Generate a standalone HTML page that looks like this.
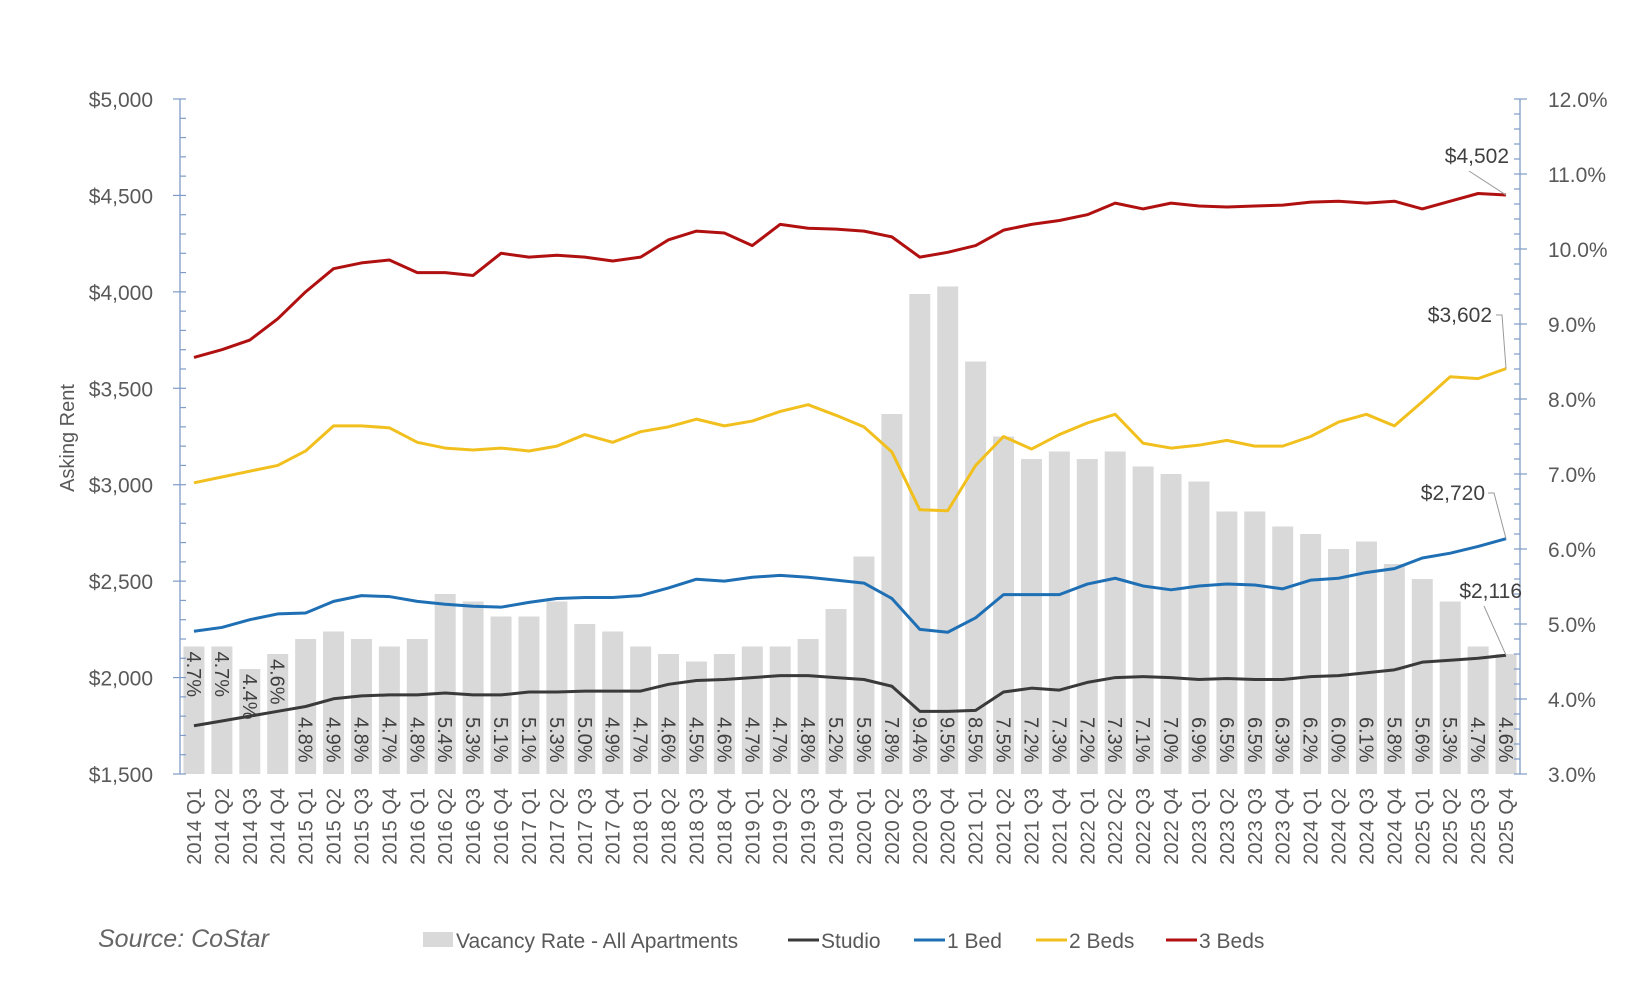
<!DOCTYPE html>
<html><head><meta charset="utf-8"><style>
body{margin:0;background:#fff}
svg{display:block;font-family:"Liberation Sans",sans-serif}
</style></head><body>
<svg id="chart" width="1650" height="1000" viewBox="0 0 1650 1000"></svg>
<script>
const categories=[];for(let y=2014;y<=2025;y++)for(let q=1;q<=4;q++)categories.push(y+' Q'+q);
const vacancy=[4.7,4.7,4.4,4.6,4.8,4.9,4.8,4.7,4.8,5.4,5.3,5.1,5.1,5.3,5.0,4.9,4.7,4.6,4.5,4.6,4.7,4.7,4.8,5.2,5.9,7.8,9.4,9.5,8.5,7.5,7.2,7.3,7.2,7.3,7.1,7.0,6.9,6.5,6.5,6.3,6.2,6.0,6.1,5.8,5.6,5.3,4.7,4.6];
const studio=[1750,1775,1800,1825,1850,1890,1905,1910,1910,1920,1910,1910,1925,1925,1930,1930,1930,1965,1985,1990,2000,2010,2010,2000,1990,1955,1825,1825,1830,1925,1945,1935,1975,2000,2005,2000,1990,1995,1990,1990,2005,2010,2025,2040,2080,2090,2100,2116];
const bed1=[2240,2260,2300,2330,2335,2395,2425,2420,2395,2380,2370,2365,2390,2410,2415,2415,2425,2465,2510,2500,2520,2530,2520,2505,2490,2410,2250,2235,2310,2430,2430,2430,2485,2515,2475,2455,2475,2485,2480,2460,2505,2515,2545,2565,2620,2645,2680,2720];
const bed2=[3010,3040,3070,3100,3175,3305,3305,3295,3220,3190,3180,3190,3175,3200,3260,3220,3275,3300,3340,3305,3330,3380,3415,3360,3300,3170,2870,2865,3100,3250,3185,3260,3320,3365,3215,3190,3205,3230,3200,3200,3250,3325,3365,3305,3430,3560,3550,3602];
const bed3=[3660,3700,3750,3860,4000,4120,4150,4165,4100,4100,4085,4200,4180,4190,4180,4160,4180,4270,4315,4305,4240,4350,4330,4325,4315,4285,4180,4205,4240,4320,4350,4370,4400,4460,4430,4460,4445,4440,4445,4450,4465,4470,4460,4470,4430,4470,4510,4502];
const leftTicks=[1500,2000,2500,3000,3500,4000,4500,5000];
const rightTicks=[3,4,5,6,7,8,9,10,11,12];

const svg=document.getElementById('chart');const NS='http://www.w3.org/2000/svg';
const X0=180,X1=1520,Y0=774,Y1=99;
const band=(X1-X0)/categories.length;
const xc=i=>X0+band*(i+0.5);
const yL=v=>Y0-(v-1500)/3500*(Y0-Y1);
const yR=v=>Y0-(v-3)/9*(Y0-Y1);
function el(t,a,txt){const e=document.createElementNS(NS,t);for(const k in a)e.setAttribute(k,a[k]);if(txt!==undefined)e.textContent=txt;svg.appendChild(e);return e;}
const G='#595959',AX='#7f9bc7';
// bars
vacancy.forEach((v,i)=>{
 const b=el('rect',{x:xc(i)-10.5,y:yR(v),width:21,height:Y0-yR(v),fill:'#d9d9d9'});
 
 
});
vacancy.forEach((v,i)=>{
 const ty=i<4?yR(v)+5:717;
 const t=el('text',{x:0,y:0,transform:`translate(${xc(i)-7},${ty}) rotate(90)`,'font-size':20,fill:'#404040'},v.toFixed(1)+'%');
 
 
});
// axes
el('line',{x1:X0,y1:Y1,x2:X0,y2:Y0,stroke:AX,'stroke-width':1.3,});
el('line',{x1:X1,y1:Y1,x2:X1,y2:Y0,stroke:AX,'stroke-width':1.3,});
for(let v=1500;v<=5000;v+=100){const y=yL(v);const maj=v%500===0;el('line',{x1:maj?X0-7:X0,y1:y,x2:X0+6,y2:y,stroke:AX,'stroke-width':1.2});}
for(let k=0;k<=45;k++){const v=3+k*0.2;const y=yR(v);const maj=k%5===0;el('line',{x1:X1-6,y1:y,x2:maj?X1+7:X1,y2:y,stroke:AX,'stroke-width':1.2});}
leftTicks.forEach(v=>{const t=el('text',{x:153,y:yL(v)+8,'text-anchor':'end','font-size':21,fill:G},'$'+v.toLocaleString('en-US'));});
rightTicks.forEach(v=>{const t=el('text',{x:1548,y:yR(v)+8,'font-size':21,fill:G},v.toFixed(1)+'%');});
el('text',{x:0,y:0,transform:'translate(74,438) rotate(-90)','text-anchor':'middle','font-size':20,fill:G,},'Asking Rent');
categories.forEach((c,i)=>{const t=el('text',{x:0,y:0,transform:`translate(${xc(i)+7},788) rotate(-90)`,'text-anchor':'end','font-size':20,fill:G},c);});
// lines
[[studio,'#3a3a3a','studio-line'],[bed1,'#1f6fb5','1-bed-line'],[bed2,'#f2c01e','2-beds-line'],[bed3,'#b01010','3-beds-line']].forEach(([d,c,n])=>{
 const p=el('polyline',{points:d.map((v,i)=>xc(i)+','+yL(v)).join(' '),fill:'none',stroke:c,'stroke-width':3,'stroke-linejoin':'round'});
 
 
});
// end annotations
const L=categories.length-1,lx=xc(L);
function ann(v,tx,ty,path){el('polyline',{points:path,fill:'none',stroke:'#999','stroke-width':1});const t=el('text',{x:tx,y:ty,'text-anchor':'end','font-size':21,fill:'#404040'},'$'+v.toLocaleString('en-US'));}
ann(bed3[L],1509,163,`1469,171 ${lx},${yL(bed3[L])}`);
ann(bed2[L],1492,322,`1496,315 1502,315 ${lx},${yL(bed2[L])}`);
ann(studio.length?bed1[L]:0,1485,500,`1488,493 1494,493 ${lx},${yL(bed1[L])}`);
ann(studio[L],1522,598,`1484,606 ${lx},${yL(studio[L])}`);
// source & legend
el('text',{x:98,y:947,'font-size':25,'font-style':'italic',fill:'#666',},'Source: CoStar');
el('rect',{x:423,y:932,width:30,height:15,fill:'#d9d9d9',});
el('text',{x:456,y:948,'font-size':21,fill:G,},'Vacancy Rate - All Apartments');
[[788,'#3a3a3a','Studio','legend-studio'],[914,'#1f6fb5','1 Bed','legend-1-bed'],[1036,'#f2c01e','2 Beds','legend-2-beds'],[1166,'#b01010','3 Beds','legend-3-beds']].forEach(([x,c,t,n])=>{
 el('line',{x1:x,y1:940,x2:x+31,y2:940,stroke:c,'stroke-width':3});
 const e=el('text',{x:x+33,y:948,'font-size':21,fill:G},t);
 
 
});
</script>
</body></html>
